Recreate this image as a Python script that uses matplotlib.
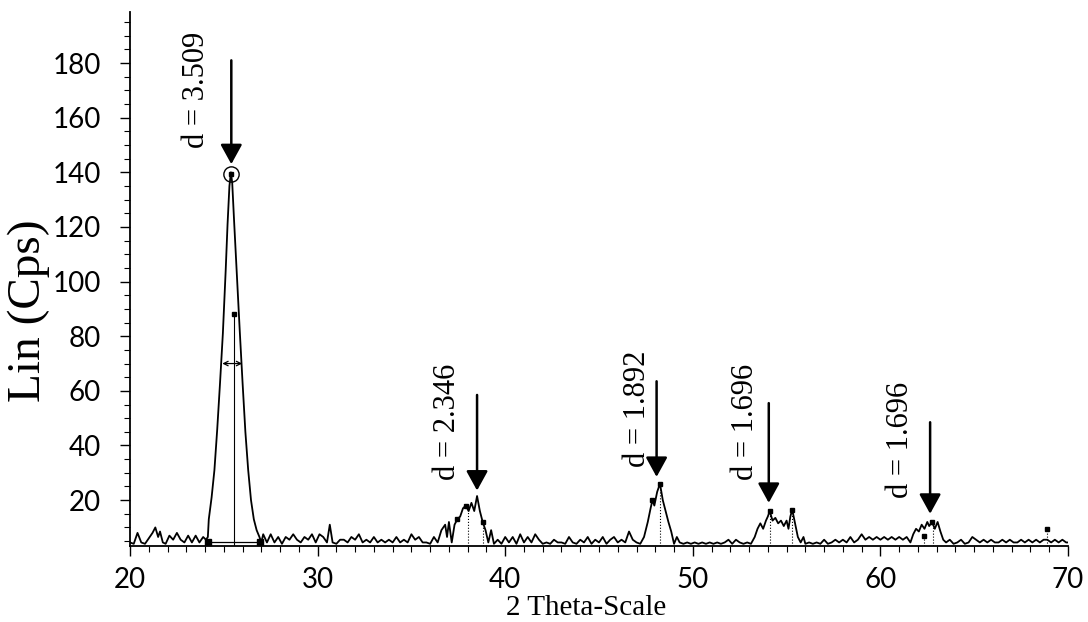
import numpy as np
import matplotlib
matplotlib.use("Agg")
import matplotlib.pyplot as plt

# 2Theta (gradi) e intensita' (Cps) letti a occhio dal diffrattogramma
tth = [20.0, 20.2, 20.4, 20.6, 20.8, 21.0, 21.2, 21.35, 21.5, 21.6, 21.75, 21.9,
       22.1, 22.3, 22.5, 22.7, 22.9, 23.1, 23.3, 23.5, 23.7, 23.9, 24.05,
       24.15, 24.2, 24.35, 24.5, 24.65, 24.8, 24.95, 25.1, 25.2, 25.3, 25.38,
       25.45, 25.55, 25.7, 25.85, 26.0, 26.15, 26.3, 26.45, 26.6, 26.75, 26.9, 27.0,
       27.1, 27.3, 27.5, 27.7, 27.9, 28.1, 28.3, 28.5, 28.7, 28.9, 29.1, 29.3,
       29.5, 29.7, 29.9, 30.1, 30.3, 30.5, 30.65, 30.8, 31.0, 31.2, 31.4, 31.6,
       31.8, 32.0, 32.2, 32.4, 32.6, 32.8, 33.0, 33.2, 33.4, 33.6, 33.8, 34.0,
       34.2, 34.4, 34.6, 34.8, 35.0, 35.2, 35.4, 35.6, 35.8, 36.0,
       36.2, 36.4, 36.6, 36.8, 36.9, 37.0, 37.15, 37.3, 37.45, 37.6, 37.75, 37.9,
       38.05, 38.2, 38.35, 38.5, 38.65, 38.8, 38.95, 39.1, 39.25, 39.4,
       39.6, 39.8, 40.0, 40.2, 40.4, 40.6, 40.8, 41.0, 41.2, 41.4, 41.6, 41.8,
       42.0, 42.2, 42.4, 42.6, 42.8, 43.0, 43.2, 43.4, 43.6, 43.8, 44.0, 44.2,
       44.4, 44.6, 44.8, 45.0, 45.2, 45.4, 45.6, 45.8, 46.0, 46.2, 46.4, 46.6,
       46.8, 47.0, 47.2,
       47.4, 47.6, 47.75, 47.85, 47.95, 48.1, 48.25, 48.4, 48.55, 48.7, 48.85,
       49.0, 49.15, 49.3,
       49.5, 49.7, 49.9, 50.1, 50.3, 50.5, 50.7, 50.9, 51.1, 51.3, 51.5, 51.7,
       51.9, 52.1, 52.3, 52.5, 52.7, 52.9, 53.1,
       53.3, 53.45, 53.6, 53.75, 53.9, 54.0, 54.1, 54.25, 54.4, 54.55, 54.7,
       54.85, 55.0, 55.1, 55.2, 55.3, 55.45, 55.6, 55.75, 55.9, 56.0,
       56.2, 56.4, 56.6, 56.8, 57.0, 57.2, 57.4, 57.6, 57.8, 58.0, 58.2, 58.4,
       58.6, 58.8, 59.0, 59.2, 59.4, 59.6, 59.8, 60.0, 60.2, 60.4, 60.6, 60.8,
       61.0, 61.2, 61.4, 61.6,
       61.75, 61.9, 62.05, 62.2, 62.35, 62.5, 62.6, 62.75, 62.9, 63.05, 63.2,
       63.35, 63.5,
       63.7, 63.9, 64.1, 64.3, 64.5, 64.7, 64.9, 65.1, 65.3, 65.5, 65.7, 65.9,
       66.1, 66.3, 66.5, 66.7, 66.9, 67.1, 67.3, 67.5, 67.7, 67.9, 68.1, 68.3,
       68.5, 68.7, 68.9, 69.1, 69.3, 69.5, 69.7, 69.9, 70.0]
cps = [4.5, 4, 8, 4.5, 4, 6, 8, 10, 6.5, 8.5, 4.5, 4,
       7, 5.5, 8, 5.5, 4.5, 7, 4.5, 7, 4.5, 6.5, 5.5,
       6.5, 13, 21, 31, 46, 63, 81, 104, 121, 135, 140,
       136, 122, 102, 82, 63, 45, 31, 20, 13, 9, 6.5, 4.5,
       7.5, 4.5, 7.5, 4.5, 6.5, 4, 6.5, 5.5, 7.5, 5.5, 4.5, 6.5,
       5.5, 7.5, 4.5, 7.5, 6.5, 4.5, 11, 4.5, 4, 5.5, 5.5, 4.5,
       6.5, 5.5, 7.5, 4.5, 5.5, 4.5, 6.5, 4.5, 5.5, 4.5, 5.5, 4.5,
       6.5, 4.5, 5.5, 4.5, 7.5, 5.5, 6.5, 4.5, 4.5, 4,
       6.5, 4.5, 9, 11, 6.5, 12, 4.5, 11, 13, 14, 17, 18,
       16, 19, 16, 21.5, 16, 12, 9, 4.5, 9, 4,
       5.5, 4, 6.5, 4.5, 6.5, 4, 7.5, 4.5, 6.5, 4.5, 7.5, 5.5,
       4, 4.5, 4, 5.5, 4.5, 4.5, 4, 6.5, 4.5, 4, 5.5, 4.5,
       6.5, 4, 5.5, 4.5, 6.5, 4, 5.5, 6.5, 4.5, 5.5, 4.5, 8.5,
       5.5, 4.5, 4,
       6.5, 12, 17, 20, 18, 23, 26, 20, 16, 12, 8.5,
       4, 6.5, 4.5,
       4, 4.5, 4, 4.5, 4, 4.5, 4, 4.5, 4, 4.5, 4, 4.5,
       5.5, 4, 5.5, 4.5, 4, 4.5, 4,
       6.5, 9.5, 11.5, 9.5, 12.5, 14, 16, 12.5, 13.5, 11.5, 12.5,
       10.5, 12.5, 9.5, 14, 16.5, 11.5, 6.5, 4.5, 6.5, 4,
       4.5, 4, 4.5, 4, 5.5, 4, 4.5, 5.5, 4.5, 5.5, 4.5, 6.5,
       4.5, 5.5, 7.5, 5.5, 6.5, 5.5, 6.5, 5.5, 6.5, 5.5, 6.5, 5.5,
       6.5, 5.5, 6.5, 4.5,
       7.5, 9.5, 8.5, 11, 9.5, 12, 10.5, 12, 9.5, 12, 8.5,
       5.5, 4.5,
       5.5, 4, 4.5, 5.5, 4, 4.5, 6.5, 5.5, 4.5, 5.5, 4.5, 5.5,
       4.5, 4.5, 5.5, 4.5, 5.5, 4.5, 4.5, 5.5, 4.5, 5.5, 4.5, 5.5,
       4.5, 5.5, 5.5, 4.5, 5.5, 4.5, 5.5, 4.5, 4.5]

# picchi marcati con freccia
picco_x = [25.4, 38.5, 48.07, 54.05, 62.65]
freccia_top = [181, 58.5, 63.5, 55.5, 48.5]
freccia_tip = [143, 23.5, 28.5, 19, 15]
etichette = ["d = 3.509", "d = 2.346", "d = 1.892", "d = 1.696", "d = 1.696"]
testo_x = [23.55, 36.9, 47.05, 52.8, 61.05]
testo_y = [149, 27.4, 32.1, 27.4, 20.8]

# linee verticali (stick) e marcatori quadrati
stick_x = [38.0, 38.8, 48.25, 54.1, 55.3, 62.3, 62.8, 68.9]
stick_y = [18, 12, 26, 16, 16.5, 7, 12, 9.5]
quad_x = [37.45, 37.9, 38.8, 47.85, 48.25, 54.1, 55.3, 62.3, 62.75, 68.9]
quad_y = [13, 18, 12, 20, 26, 16, 16.5, 7, 12, 9.5]

fig = plt.figure(figsize=(10.88, 6.22), dpi=100)
ax = fig.add_axes([130/1088, 76/622, 938/1088, 534/622])

ax.plot(tth, cps, color="black", lw=1.3)

# dettagli del picco principale: fondo, FWHM, baricentro
ax.plot([24.15, 26.95], [4.5, 4.5], color="black", lw=0.9)
ax.plot([24.15, 26.95], [4.5, 4.5], "s", color="black", ms=4)
ax.plot([25.55, 25.55], [3.2, 88], color="black", lw=0.8)
ax.plot([25.55], [88], "s", color="black", ms=3)
ax.annotate("", xy=(24.92, 70), xytext=(25.98, 70),
            arrowprops=dict(arrowstyle="<->", lw=0.9, color="black",
                            shrinkA=0, shrinkB=0, mutation_scale=8))
ax.plot([25.38], [139.5], "o", mfc="none", mec="black", ms=11, mew=1)
ax.plot([25.38], [139.5], "s", color="black", ms=3.5)

for i in range(len(stick_x)):
    ax.plot([stick_x[i], stick_x[i]], [3.2, stick_y[i]], color="black", lw=0.8, ls=":")
ax.plot(quad_x, quad_y, "s", color="black", ms=3.5)

for i in range(len(picco_x)):
    ax.annotate("", xy=(picco_x[i], freccia_tip[i]), xytext=(picco_x[i], freccia_top[i]),
                arrowprops=dict(arrowstyle="-|>,head_length=0.6,head_width=0.33",
                                lw=1.8, color="black", shrinkA=0, shrinkB=0,
                                mutation_scale=20))
    ax.text(testo_x[i], testo_y[i], etichette[i], rotation=90, ha="center",
            va="bottom", fontsize=22, family="Liberation Serif")

ax.set_xlim(20, 70)
ax.set_ylim(3.2, 198.7)
ax.spines["top"].set_visible(False)
ax.spines["right"].set_visible(False)
ax.spines["left"].set_linewidth(1.3)
ax.spines["bottom"].set_linewidth(1.3)

ax.set_xticks(np.arange(20, 71, 10))
ax.set_xticks(np.arange(20, 71, 1), minor=True)
ax.set_yticks(np.arange(20, 181, 20))
ax.set_yticks(np.arange(5, 196, 5), minor=True)
ax.tick_params(axis="both", which="major", direction="out", length=7, width=1, labelsize=20)
ax.tick_params(axis="both", which="minor", direction="out", length=4, width=0.8)
ax.tick_params(axis="y", which="major", pad=14)
ax.tick_params(axis="x", which="major", pad=8)
for lab in ax.get_xticklabels() + ax.get_yticklabels():
    lab.set_family("Lato")

ax.set_xlabel("2 Theta-Scale", fontsize=21, family="Liberation Serif")
ax.xaxis.set_label_coords(0.486, -0.092)
ax.set_ylabel("Lin (Cps)", fontsize=34, family="Liberation Serif")
ax.yaxis.set_label_coords(-0.085, 0.44)

fig.savefig("out.png", dpi=100)
